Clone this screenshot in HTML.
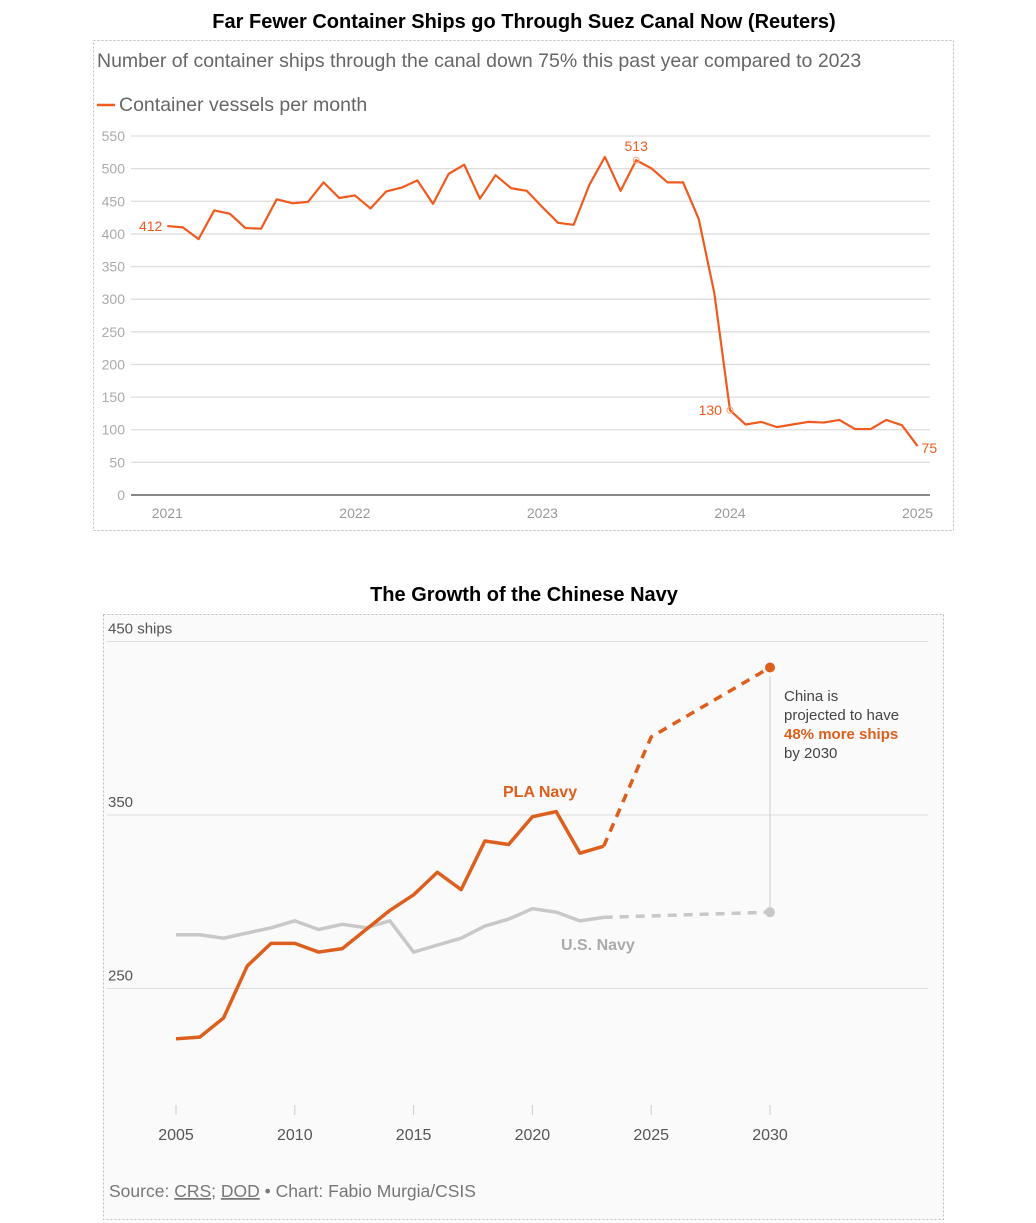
<!DOCTYPE html>
<html><head><meta charset="utf-8">
<style>
body{margin:0;background:#fff;font-family:"Liberation Sans",Arial,sans-serif;}
svg{display:block}
</style></head>
<body>
<svg id="s" width="1036" height="1223" xmlns="http://www.w3.org/2000/svg">
<text x="524" y="28" text-anchor="middle" font-size="20" font-weight="bold">Far Fewer Container Ships go Through Suez Canal Now (Reuters)</text>
<rect x="93.5" y="40.5" width="860" height="490" fill="none" stroke="#bbb" stroke-dasharray="2,2"/>
<text x="97" y="67" font-size="19.5" fill="#666">Number of container ships through the canal down 75% this past year compared to 2023</text>
<line x1="97" y1="105" x2="115" y2="105" stroke="#f05a1e" stroke-width="2.5"/>
<text x="119" y="111" font-size="19.5" fill="#666">Container vessels per month</text>
<g id="topg"></g>
<text x="524" y="601" text-anchor="middle" font-size="20" font-weight="bold">The Growth of the Chinese Navy</text>
<rect x="103.5" y="614.5" width="840" height="605" fill="#fafafa" stroke="#bbb" stroke-dasharray="2,2"/>
<g id="botg"></g>
<text x="109" y="1197" font-size="17.5" fill="#777">Source: <tspan text-decoration="underline">CRS</tspan>; <tspan text-decoration="underline">DOD</tspan> • Chart: Fabio Murgia/CSIS</text>
</svg>
<script>
const suezYears=["2021","2022","2023","2024","2025"];
const suezTicks=[0,50,100,150,200,250,300,350,400,450,500,550];
const suezValues=[412,410,392,436,431,409,408,453,447,449,479,455,459,439,465,471,482,446,492,506,454,490,470,466,441,417,414,475,518,466,513,500,479,479,423,309,130,108,112,104,108,112,111,115,101,101,115,107,75];
const navyYears=[2005,2006,2007,2008,2009,2010,2011,2012,2013,2014,2015,2016,2017,2018,2019,2020,2021,2022,2023];
const plaValues=[221,222,233,263,276,276,271,273,284,295,304,317,307,335,333,349,352,328,332];
const usValues=[281,281,279,282,285,289,284,287,285,289,271,275,279,286,290,296,294,289,291];
const plaProjYears=[2023,2025,2030];
const plaProjValues=[332,395,435];
const usProjYears=[2023,2030];
const usProjValues=[291,294];
const navyTicks=[250,350,450];
const navyXTicks=[2005,2010,2015,2020,2025,2030];

const NS="http://www.w3.org/2000/svg";
function mk(p,tag,a,txt){const e=document.createElementNS(NS,tag);for(const k in a)e.setAttribute(k,a[k]);if(txt!=null)e.textContent=txt;p.appendChild(e);return e;}

const topG=document.getElementById('topg');
const tx=i=>167.3+i*15.63, ty=v=>495-v*0.6527;
suezTicks.forEach(t=>{
  const l=mk(topG,'line',{x1:131,x2:930,y1:ty(t),y2:ty(t),stroke:t===0?'#888':'#ddd','stroke-width':t===0?2:1.3});
  
  
  const tt=mk(topG,'text',{x:125,y:ty(t)+5,'text-anchor':'end','font-size':14,fill:'#aaa'},String(t));
  
  
});
suezYears.forEach((y,i)=>{
  const t=mk(topG,'text',{x:tx(i*12),y:518,'text-anchor':'middle','font-size':14,fill:'#999'},y);
  
  
});
const sl=mk(topG,'polyline',{points:suezValues.map((v,i)=>tx(i)+','+ty(v)).join(' '),fill:'none',stroke:'#f05a1e','stroke-width':2.2,'stroke-linejoin':'round'});


function ann(i,dx,dy,anchor,circle){
  if(circle){const c=mk(topG,'circle',{cx:tx(i),cy:ty(suezValues[i]),r:3,fill:'none',stroke:'#f7a07a'});}
  const t=mk(topG,'text',{x:tx(i)+dx,y:ty(suezValues[i])+dy,'text-anchor':anchor,'font-size':14,fill:'#f05a1e'},String(suezValues[i]));
  
  
}
ann(0,-5,5,'end',false);ann(30,0,-9,'middle',true);ann(36,-8,5,'end',true);ann(48,4,7,'start',false);

const botG=document.getElementById('botg');
const bx=y=>176+(y-2005)*23.76, by=v=>815-(v-350)*1.735;
navyTicks.forEach(t=>{
  const l=mk(botG,'line',{x1:107,x2:928,y1:by(t),y2:by(t),stroke:'#ddd','stroke-width':1});
  
  
  const tt=mk(botG,'text',{x:108,y:by(t)-8,'font-size':15,fill:'#555'},t+(t===450?' ships':''));
  
  
});
navyXTicks.forEach(y=>{
  const l=mk(botG,'line',{x1:bx(y),x2:bx(y),y1:1105,y2:1115,stroke:'#ccc'});
  
  
  const t=mk(botG,'text',{x:bx(y),y:1140,'text-anchor':'middle','font-size':16,fill:'#555'},String(y));
  
  
});
const vl=mk(botG,'line',{x1:bx(2030),x2:bx(2030),y1:by(430),y2:by(297),stroke:'#ccc'});


const up=mk(botG,'polyline',{points:usProjYears.map((y,i)=>bx(y)+','+by(usProjValues[i])).join(' '),fill:'none',stroke:'#c8c8c8','stroke-width':3.5,'stroke-dasharray':'9,7'});


const ul=mk(botG,'polyline',{points:navyYears.map((y,i)=>bx(y)+','+by(usValues[i])).join(' '),fill:'none',stroke:'#c8c8c8','stroke-width':3.5,'stroke-linejoin':'round'});


const uc=mk(botG,'circle',{cx:bx(2030),cy:by(usProjValues[1]),r:5,fill:'#c8c8c8'});


const pp=mk(botG,'polyline',{points:plaProjYears.map((y,i)=>bx(y)+','+by(plaProjValues[i])).join(' '),fill:'none',stroke:'#dd5f1e','stroke-width':3.5,'stroke-dasharray':'9,7'});


const pl=mk(botG,'polyline',{points:navyYears.map((y,i)=>bx(y)+','+by(plaValues[i])).join(' '),fill:'none',stroke:'#dd5f1e','stroke-width':3.5,'stroke-linejoin':'round'});


const pc=mk(botG,'circle',{cx:bx(2030),cy:by(plaProjValues[2]),r:5,fill:'#dd5f1e'});


const l1=mk(botG,'text',{x:503,y:797,'font-size':16,'font-weight':'bold',fill:'#dd5f1e'},'PLA Navy');


const l2=mk(botG,'text',{x:561,y:950,'font-size':16,'font-weight':'bold',fill:'#aaa'},'U.S. Navy');


[['China is','#444','normal',701],['projected to have','#444','normal',720],['48% more ships','#dd5f1e','bold',739],['by 2030','#444','normal',758]].forEach(a=>{
  const t=mk(botG,'text',{x:784,y:a[3],'font-size':15,fill:a[1],'font-weight':a[2]},a[0]);
  
  
});
</script>
</body></html>
